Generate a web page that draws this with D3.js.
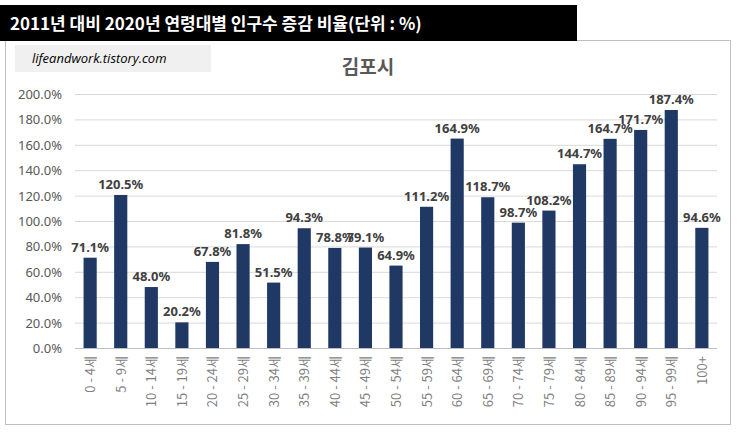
<!DOCTYPE html>
<html><head><meta charset="utf-8">
<script src="https://cdn.jsdelivr.net/npm/d3@7"></script>
<style>body{margin:0;background:#fff;font-family:"Noto Sans CJK KR","Noto Sans",sans-serif}</style>
</head><body><svg id="c" width="737" height="433"></svg>
<script>
// Data
const ageGroups = ["0 - 4세","5 - 9세","10 - 14세","15 - 19세","20 - 24세","25 - 29세","30 - 34세","35 - 39세","40 - 44세","45 - 49세","50 - 54세","55 - 59세","60 - 64세","65 - 69세","70 - 74세","75 - 79세","80 - 84세","85 - 89세","90 - 94세","95 - 99세","100+"];
const changeRates = [71.1,120.5,48.0,20.2,67.8,81.8,51.5,94.3,78.8,79.1,64.9,111.2,164.9,118.7,98.7,108.2,144.7,164.7,171.7,187.4,94.6];
const yTicks = [0,20,40,60,80,100,120,140,160,180,200];

let svg = d3.select("#c");

// outer chart border
svg.append("rect").attr("x",5.5).attr("y",40.5).attr("width",725).attr("height",384)
  .attr("fill","#fff").attr("stroke","#bfbfbf");

// title bar
svg.append("rect").attr("x",0).attr("y",5).attr("width",577).attr("height",36).attr("fill","#000");
svg.append("text").attr("x",10).attr("y",30).attr("fill","#fff").attr("font-size",17).attr("font-weight","bold")
  .text("2011년 대비 2020년 연령대별 인구수 증감 비율(단위 : %)");

// watermark
svg.append("rect").attr("x",15).attr("y",45).attr("width",196).attr("height",27).attr("fill","#f0f0f0");
svg.append("text").attr("x",32).attr("y",63).attr("font-size",13).attr("font-style","italic")
  .attr("font-family","Open Sans, sans-serif").attr("fill","#000").text("lifeandwork.tistory.com");

// chart title
svg.append("text").attr("x",368).attr("y",74).attr("text-anchor","middle").attr("font-size",19)
  .attr("font-weight","bold").attr("fill","#595959").text("김포시");

let x = d3.scaleBand().domain(ageGroups).range([75,717]).paddingInner(0.57).paddingOuter(0.28);
let y = d3.scaleLinear().domain([0,200]).range([348,94]);

// gridlines
svg.append("g").selectAll("line").data(yTicks).join("line")
  .attr("x1",75).attr("x2",717).attr("y1",d => y(d)+0.5).attr("y2",d => y(d)+0.5)
  .attr("stroke",d => d === 0 ? "#bfbfbf" : "#d9d9d9");

// y labels
svg.append("g").selectAll("text").data(yTicks).join("text")
  .attr("x",62).attr("y",d => y(d)+5).attr("text-anchor","end").attr("font-size",13)
  .attr("font-family","Noto Sans, sans-serif").attr("fill","#595959").text(d => d.toFixed(1)+"%");

// bars
svg.append("g").selectAll("rect").data(changeRates).join("rect")
  .attr("x",(d,i) => x(ageGroups[i])).attr("width",x.bandwidth())
  .attr("y",d => y(d)).attr("height",d => y(0)-y(d)).attr("fill","#1f3864");

// value labels
svg.append("g").selectAll("text").data(changeRates).join("text")
  .attr("x",(d,i) => x(ageGroups[i])+x.bandwidth()/2).attr("y",d => y(d)-6)
  .attr("text-anchor","middle").attr("font-size",13).attr("font-weight","bold")
  .attr("font-family","Noto Sans, sans-serif").attr("fill","#404040").text(d => d.toFixed(1)+"%");

// category labels (rotated)
svg.append("g").selectAll("text").data(ageGroups).join("text")
  .attr("transform",d => `translate(${x(d)+x.bandwidth()/2+5},356) rotate(-90)`)
  .attr("text-anchor","end").attr("font-size",13).attr("fill","#7f7f7f").text(d => d);
</script></body></html>
